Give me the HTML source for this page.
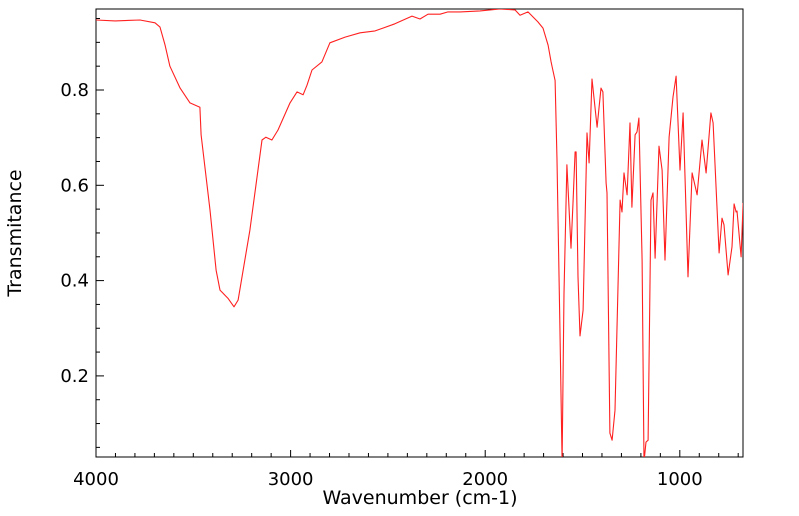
<!DOCTYPE html>
<html><head><meta charset="utf-8"><style>
html,body{margin:0;padding:0;background:#fff;}
svg{display:block;font-family:"DejaVu Sans","Liberation Sans",sans-serif;}
</style></head><body>
<svg id="chart" width="799" height="516">
<defs><clipPath id="clip"><rect x="96" y="9" width="647" height="448"/></clipPath></defs>
<rect x="96" y="9" width="647" height="448" fill="#fff" stroke="#000" stroke-width="1"/>
<g id="ticks"></g>
<path id="line" clip-path="url(#clip)" fill="none" stroke="#ff2020" stroke-width="1.1" stroke-linejoin="round"/>
<text x="420" y="504" text-anchor="middle" font-size="19">Wavenumber (cm-1)</text>
<text transform="translate(21,233) rotate(-90)" text-anchor="middle" font-size="19">Transmitance</text>
</svg>
<script>
const wavenumbers=[4000,3902,3774,3697,3671,3645,3620,3568,3517,3466,3460,3414,3383,3363,3322,3291,3270,3209,3147,3127,3096,3065,3003,2967,2936,2916,2890,2839,2798,2720,2643,2566,2464,2376,2335,2294,2232,2191,2129,2027,1924,1847,1821,1780,1729,1703,1677,1662,1657,1641,1631,1616,1605,1595,1580,1559,1549,1538,1533,1523,1513,1497,1477,1466,1451,1425,1405,1395,1379,1374,1359,1348,1333,1307,1297,1287,1271,1256,1246,1230,1220,1210,1194,1184,1174,1163,1148,1138,1127,1107,1091,1076,1055,1035,1019,999,983,958,937,911,886,865,840,829,798,783,773,752,732,721,711,706,685,675];
const transmittance=[0.947,0.945,0.947,0.941,0.932,0.894,0.850,0.804,0.773,0.764,0.706,0.548,0.422,0.380,0.363,0.345,0.359,0.506,0.695,0.701,0.695,0.716,0.773,0.796,0.790,0.810,0.842,0.859,0.899,0.911,0.920,0.924,0.939,0.955,0.949,0.959,0.959,0.964,0.964,0.966,0.970,0.968,0.957,0.964,0.943,0.930,0.894,0.860,0.850,0.820,0.653,0.303,0.020,0.374,0.643,0.468,0.563,0.670,0.670,0.408,0.284,0.338,0.710,0.647,0.823,0.722,0.804,0.796,0.605,0.584,0.080,0.065,0.128,0.569,0.544,0.626,0.580,0.731,0.554,0.706,0.712,0.741,0.443,0.020,0.061,0.065,0.569,0.584,0.447,0.682,0.632,0.443,0.701,0.785,0.829,0.632,0.752,0.408,0.626,0.580,0.695,0.626,0.752,0.731,0.458,0.531,0.517,0.412,0.471,0.561,0.544,0.546,0.450,0.563];
const xTickLabels=[4000,3000,2000,1000];
const yTickLabels=[0.2,0.4,0.6,0.8];
const X0=96,X1=743,W0=4000,W1=675.3;
function xs(w){return X0+(W0-w)/(W0-W1)*(X1-X0);}
function ys(t){return 90-(t-0.8)*476.5;}
const NS="http://www.w3.org/2000/svg";
const g=document.getElementById('ticks');
function line(x1,y1,x2,y2,name){const l=document.createElementNS(NS,'line');l.setAttribute('x1',x1);l.setAttribute('y1',y1);l.setAttribute('x2',x2);l.setAttribute('y2',y2);l.setAttribute('stroke','#000');l.setAttribute('stroke-width','1');


g.appendChild(l);}
function text(x,y,s,anchor,name){const t=document.createElementNS(NS,'text');t.setAttribute('x',x);t.setAttribute('y',y);t.setAttribute('text-anchor',anchor);t.setAttribute('font-size','18');t.textContent=s;


g.appendChild(t);}
for(let w=700;w<=4000;w+=100){const x=xs(w);const major=w%1000===0;line(x,457,x,457-(major?7:4),major?'x-major-tick':'x-minor-tick');}
for(let k=1;k<=19;k++){const t=k*0.05;const y=ys(t);const major=k%4===0;line(96,y,96+(major?8:4),y,major?'y-major-tick':'y-minor-tick');}
xTickLabels.forEach(w=>text(xs(w),485,String(w),'middle','x-tick-label'));
yTickLabels.forEach(t=>text(89,ys(t)+6,t.toFixed(1),'end','y-tick-label'));
let d='';
wavenumbers.forEach((w,i)=>{d+=(i?'L':'M')+xs(w).toFixed(1)+','+ys(transmittance[i]).toFixed(1);});
document.getElementById('line').setAttribute('d',d);
</script>
</body></html>
